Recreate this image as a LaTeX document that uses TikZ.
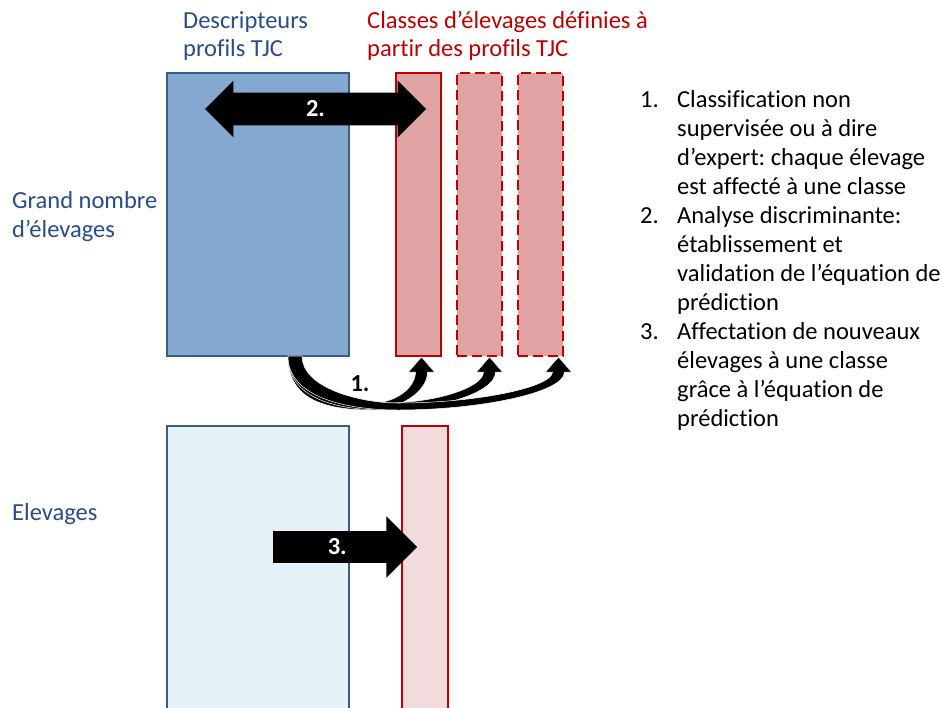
\documentclass[tikz,border=0pt]{standalone}
\usepackage{fontspec}
\setmainfont{Carlito}[Ligatures=NoCommon]
\usetikzlibrary{shapes.arrows,calc,positioning}

\definecolor{descblue}{RGB}{133,168,208}
\definecolor{edgeblue}{RGB}{56,93,138}
\definecolor{textblue}{RGB}{38,76,140}
\definecolor{clsred}{RGB}{223,163,163}
\definecolor{edgered}{RGB}{192,0,0}
\definecolor{paleblue}{RGB}{230,242,248}
\definecolor{palered}{RGB}{242,219,220}

\begin{document}
\frenchspacing
\begin{tikzpicture}[
    x=1pt, y=1pt,
    font=\fontsize{24.5}{28.5}\selectfont,
    descbox/.style={rectangle, draw=edgeblue, line width=2pt, fill=descblue, anchor=north west, inner sep=0pt, outer sep=0pt, minimum width=182pt},
    clsbox/.style={rectangle, draw=edgered, line width=2.6pt, fill=clsred, anchor=north west, inner sep=0pt, outer sep=0pt, minimum width=45pt},
    dashedcls/.style={clsbox, dash pattern=on 10pt off 5pt},
    bluetext/.style={anchor=west, align=left, inner sep=0pt, text=textblue},
    redtext/.style={anchor=west, align=left, inner sep=0pt, text=edgered},
    blockarrow/.style={fill=black, inner xsep=0pt, text=white, font=\fontsize{24.5}{28.5}\selectfont\bfseries},
    curvearrow/.style={fill=black, draw=white, line width=0.5pt}
]
    \useasboundingbox (0,0) rectangle (941,-707);
    \clip (0,0) rectangle (941,-707);

    % Top row: descriptors and classes
    \node[descbox, minimum height=283pt] (desc) at (167,-73) {};
    \node[clsbox, minimum height=283pt] (cls1) at (396,-73) {};
    \node[dashedcls, minimum height=283pt, right=16pt of cls1] (cls2) {};
    \node[dashedcls, minimum height=283pt, right=16pt of cls2] (cls3) {};

    % Bottom row: new farms
    \node[descbox, fill=paleblue, minimum height=290pt] (elev) at (167,-426) {};
    \node[clsbox, fill=palered, minimum width=46pt, minimum height=290pt] (newcls) at (402,-426) {};

    % Titles
    \node[bluetext] (desctitle) at (183,-36) {Descripteurs\\profils TJC};
    \node[redtext] (clstitle) at (367,-36) {Classes d’élevages définies à\\partir des profils TJC};
    \node[bluetext] (grand) at (12,-216.5) {Grand nombre\\d’élevages};
    \node[bluetext] (elevtitle) at (12,-514) {Elevages};

    % 1. Curved arrows from the descriptors to each class
    \foreach \cls/\dx/\bx in {cls1/3/372, cls2/10/385, cls3/18/398} {
        \fill[curvearrow] let \p0=($(desc.south)+(30,0)$), \p1=($(\cls.south)+(\dx,-1)$), \n1={0.5*(\x1+\bx pt)} in
            (\x0,\y0) .. controls (\x0,\y0-42pt) and (\bx pt-50pt,\y0-54pt) .. (\bx pt,\y0-54pt)
            .. controls (\n1,\y0-54pt) and (\x1+6pt,\y1-36pt) .. (\x1+6pt,\y1-15pt)
            -- (\x1+13pt,\y1-15pt) -- (\x1,\y1) -- (\x1-13pt,\y1-15pt) -- (\x1-6pt,\y1-15pt)
            .. controls (\x1-6pt,\y1-30pt) and (\n1,\y0-47pt) .. (\bx pt,\y0-47pt)
            .. controls (\bx pt-38pt,\y0-47pt) and (\x0+14pt,\y0-32pt) .. (\x0+14pt,\y0) -- cycle;
    }
    \node[inner sep=0pt, font=\fontsize{24.5}{28.5}\selectfont\bfseries] (classif) at (360,-384) {1.};

    % 2. Discriminant analysis
    \node[blockarrow, double arrow, double arrow head extend=12pt, minimum width=53pt, minimum height=221pt, inner ysep=8pt] (analyse) at (315.5,-109) {2.};

    % 3. Assignment of new farms
    \node[blockarrow, single arrow, single arrow head extend=15pt, minimum width=60pt, minimum height=144pt, inner ysep=7.5pt, anchor=tail] (affect) at (273,-547) {3.};

    % Legend
    \node[anchor=west, inner sep=0pt, font=\fontsize{24.5}{29}\selectfont] (steps) at (640,-261.5) {%
        \begin{tabular}{@{}p{37pt}@{}l@{}}
        1. & Classification non\\
           & supervisée ou à dire\\
           & d’expert: chaque élevage\\
           & est affecté à une classe\\
        2. & Analyse discriminante:\\
           & établissement et\\
           & validation de l’équation de\\
           & prédiction\\
        3. & Affectation de nouveaux\\
           & élevages à une classe\\
           & grâce à l’équation de\\
           & prédiction
        \end{tabular}};
\end{tikzpicture}
\end{document}
